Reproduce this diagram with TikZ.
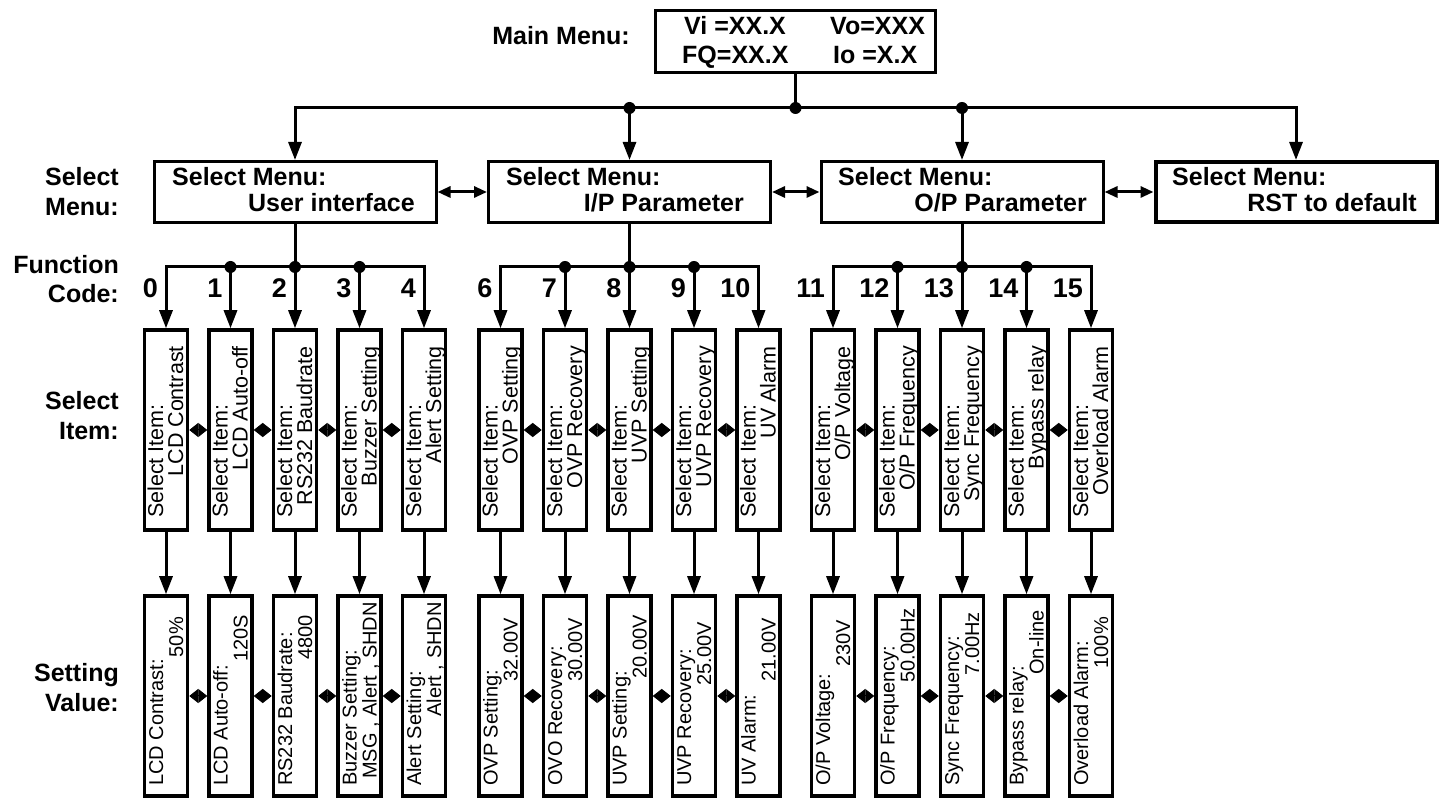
\documentclass[tikz,border=0pt]{standalone}
\usepackage{fontspec}
\setmainfont{Liberation Sans}
\usetikzlibrary{arrows.meta}
\tikzset{
  menubox/.style={draw, line width=3pt, minimum width=282pt, minimum height=61pt, inner sep=0pt},
  ib/.style={draw, line width=3.5pt, minimum width=43pt, minimum height=200pt, inner sep=0pt},
  bt/.style={font=\fontsize{25}{30}\selectfont\bfseries, inner sep=0pt},
  dg/.style={font=\fontsize{27}{30}\selectfont\bfseries, inner sep=0pt},
  itx/.style={font=\fontsize{21.5}{21.5}\selectfont, inner sep=0pt, rotate=90},
  vtx/.style={font=\fontsize{20}{20}\selectfont, inner sep=0pt, rotate=90},
  ln/.style={line width=3pt, line cap=rect},
  arr/.style={line width=3pt, -{Triangle[length=18pt,width=13pt]}},
  dblarr/.style={line width=3pt, {Triangle[length=13pt,width=11pt]}-{Triangle[length=13pt,width=11pt]}},
  dia/.style={line width=1pt, {Triangle[length=9pt,width=14pt]}-{Triangle[length=9pt,width=14pt]}},
  jdot/.style={circle, fill, inner sep=0pt, minimum size=12pt}
}
\newcommand\itemcol[6]{%
  \node[ib] (i#1) at (#2,370) {};
  \node[itx, anchor=base west] (i#1a) at (#2-3,282) {Select Item:};
  \node[itx, anchor=base east] (i#1b) at (#2+17,454) {#3};
  \node[ib] (v#1) at (#2,104) {};
  \node[vtx, anchor=base west] (v#1a) at (#2-3,14) {#4};
  \node[vtx, anchor=base east] (v#1b) at (#2+17,206-#6) {#5};
  \node[dg, anchor=base east] (d#1) at (#2-8,502) {#1};
  \coordinate (c#1) at (#2,533);
  \draw[arr] (c#1) -- (i#1.north);
  \draw[arr] (i#1.south) -- (v#1.north);
}
\begin{document}
\begin{tikzpicture}[x=1pt,y=1pt]
\useasboundingbox (0,0) rectangle (1448,800);
\fill[white] (0,0) rectangle (1448,800);

% main menu
\node[draw, line width=3pt, minimum width=280pt, minimum height=62pt, inner sep=0pt] (main) at (795.5,758.5) {};
\node[bt, anchor=base east] (mainlab) at (630,755) {Main Menu:};
\node[bt, anchor=base west] (vi) at (684,765) {Vi =XX.X};
\node[bt, anchor=base west] (vo) at (830,765) {Vo=XXX};
\node[bt, anchor=base west] (fq) at (682,736) {FQ=XX.X};
\node[bt, anchor=base west] (io) at (833,736) {Io =X.X};

% select menu boxes
\node[menubox] (m1) at (295,608) {};
\node[menubox] (m2) at (629.5,608) {};
\node[menubox] (m3) at (962,608) {};
\node[menubox, line width=4pt, minimum width=281pt, minimum height=60pt] (m4) at (1296,608) {};
\node[bt, anchor=base west] (m1a) at (172,614) {Select Menu:};
\node[bt, anchor=base east] (m1b) at (415,588) {User interface};
\node[bt, anchor=base west] (m2a) at (506,614) {Select Menu:};
\node[bt, anchor=base east] (m2b) at (744,588) {I/P Parameter};
\node[bt, anchor=base west] (m3a) at (838,614) {Select Menu:};
\node[bt, anchor=base east] (m3b) at (1087,588) {O/P Parameter};
\node[bt, anchor=base west] (m4a) at (1172,614) {Select Menu:};
\node[bt, anchor=base east] (m4b) at (1417,588) {RST to default};

% top bus
\coordinate (tb0) at (295,692);
\coordinate (tb1) at (629.5,692);
\coordinate (tbc) at (795.5,692);
\coordinate (tb2) at (962,692);
\coordinate (tb3) at (1296,692);
\draw[ln] (main.south) -- (tbc);
\draw[ln] (tb0) -- (tb3);
\draw[arr] (tb0) -- (m1.north);
\draw[arr] (tb1) -- (m2.north);
\draw[arr] (tb2) -- (m3.north);
\draw[arr] (tb3) -- (m4.north);
\node[jdot] (dt1) at (tb1) {};
\node[jdot] (dtc) at (tbc) {};
\node[jdot] (dt2) at (tb2) {};
\draw[dblarr] (m1.east) -- (m2.west);
\draw[dblarr] (m2.east) -- (m3.west);
\draw[dblarr] (m3.east) -- (m4.west);

% left labels
\node[bt, anchor=base east] (l1a) at (119,614) {Select};
\node[bt, anchor=base east] (l1b) at (119,584) {Menu:};
\node[bt, anchor=base east] (l2a) at (119,526) {Function};
\node[bt, anchor=base east] (l2b) at (119,497) {Code:};
\node[bt, anchor=base east] (l3a) at (119,390) {Select};
\node[bt, anchor=base east] (l3b) at (119,360) {Item:};
\node[bt, anchor=base east] (l4a) at (119,118) {Setting};
\node[bt, anchor=base east] (l4b) at (119,88) {Value:};

% columns
\itemcol{0}{166}{LCD Contrast}{LCD Contrast:}{50\%}{23}
\itemcol{1}{230.5}{LCD Auto-off}{LCD Auto-off:}{120S}{21}
\itemcol{2}{295}{RS232 Baudrate}{RS232 Baudrate:}{4800}{21}
\itemcol{3}{359.5}{Buzzer Setting}{Buzzer Setting:}{MSG , Alert , SHDN}{8}
\itemcol{4}{424}{Alert Setting}{Alert Setting:}{Alert , SHDN}{8}
\itemcol{6}{500.5}{OVP Setting}{OVP Setting:}{32.00V}{24}
\itemcol{7}{565}{OVP Recovery}{OVO Recovery:}{30.00V}{24}
\itemcol{8}{629.5}{UVP Setting}{UVP Setting:}{20.00V}{21}
\itemcol{9}{694}{UVP Recovery}{UVP Recovery:}{25.00V}{28}
\itemcol{10}{758.5}{UV Alarm}{UV Alarm:}{21.00V}{24}
\itemcol{11}{833}{O/P Voltage}{O/P Voltage:}{230V}{26}
\itemcol{12}{897.5}{O/P Frequency}{O/P Frequency:}{50.00Hz}{14}
\itemcol{13}{962}{Sync Frequency}{Sync Frequency:}{7.00Hz}{18}
\itemcol{14}{1026.5}{Bypass relay}{Bypass relay:}{On-line}{16}
\itemcol{15}{1091}{Overload Alarm}{Overload Alarm:}{100\%}{23}

% group buses
\draw[ln] (m1.south) -- (c2);
\draw[ln] (c0) -- (c4);
\draw[ln] (m2.south) -- (c8);
\draw[ln] (c6) -- (c10);
\draw[ln] (m3.south) -- (c13);
\draw[ln] (c11) -- (c15);
\foreach \k in {1,2,3,7,8,9,12,13,14} { \node[jdot] (gd\k) at (c\k) {}; }

% side links
\foreach \a/\b in {0/1,1/2,2/3,3/4,6/7,7/8,8/9,9/10,11/12,12/13,13/14,14/15} {
  \draw[dia] (i\a.east) -- (i\b.west);
  \draw[dia] (v\a.east) -- (v\b.west);
}
\end{tikzpicture}
\end{document}
